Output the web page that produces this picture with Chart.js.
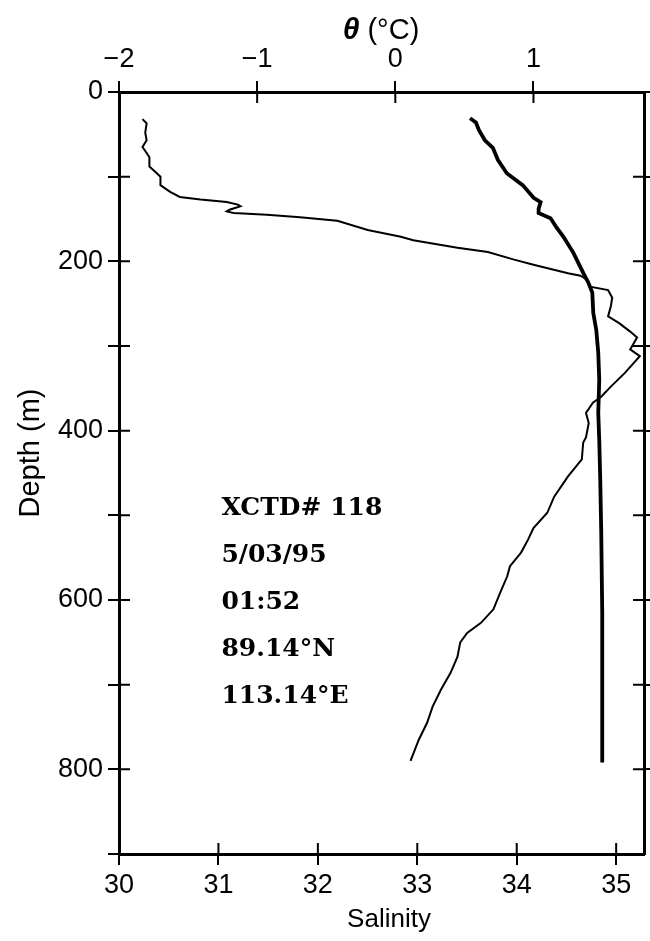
<!DOCTYPE html>
<html>
<head>
<meta charset="utf-8">
<script src="https://cdn.jsdelivr.net/npm/chart.js@4.4.1/dist/chart.umd.min.js"></script>
<style>
html,body{margin:0;padding:0;background:#fff;}
#wrap{width:650px;height:941px;position:relative;}
</style>
</head>
<body>
<div id="wrap"><canvas id="c" width="650" height="941"></canvas></div>
<script>
// ---- data ----
const salDepth = [31, 36, 45, 57, 66, 80, 96, 110, 125, 130, 138, 143, 149, 160, 171, 190, 214, 225, 237, 261, 281, 308, 340, 379, 411, 458, 520, 615, 700, 792];
const salinity = [33.53, 33.59, 33.62, 33.68, 33.76, 33.81, 33.90, 34.06, 34.17, 34.24, 34.22, 34.22, 34.34, 34.40, 34.47, 34.57, 34.67, 34.72, 34.76, 34.77, 34.80, 34.82, 34.83, 34.82, 34.83, 34.84, 34.85, 34.86, 34.86, 34.86];

const tempDepth = [32, 37, 48, 57, 65, 72, 77, 88, 94, 100, 110, 118, 124, 127, 130, 133, 135, 139, 141, 143, 145, 148, 152, 163, 171, 175, 184, 189, 198, 204, 214, 217, 222, 230, 234, 243, 253, 265, 273, 283, 290, 304, 312, 332, 348, 360, 367, 379, 391, 408, 414, 434, 454, 478, 497, 515, 529, 544, 560, 572, 591, 611, 627, 639, 650, 667, 686, 706, 726, 745, 765, 790];
const theta = [-1.83, -1.80, -1.81, -1.80, -1.83, -1.80, -1.78, -1.78, -1.74, -1.70, -1.70, -1.63, -1.56, -1.41, -1.22, -1.14, -1.12, -1.20, -1.22, -1.17, -0.93, -0.69, -0.42, -0.20, 0.04, 0.13, 0.45, 0.67, 0.86, 1.00, 1.25, 1.34, 1.39, 1.41, 1.54, 1.57, 1.56, 1.54, 1.62, 1.70, 1.75, 1.70, 1.77, 1.66, 1.56, 1.49, 1.43, 1.38, 1.40, 1.38, 1.36, 1.35, 1.25, 1.15, 1.10, 1.00, 0.96, 0.91, 0.83, 0.81, 0.76, 0.71, 0.62, 0.52, 0.47, 0.45, 0.40, 0.33, 0.27, 0.23, 0.17, 0.11];

const salTicks = [30, 31, 32, 33, 34, 35];
const salTickLabels = ['30', '31', '32', '33', '34', '35'];
const thetaTicks = [-2, -1, 0, 1];
const thetaTickLabels = ['\u22122', '\u22121', '0', '1'];
const depthTicks = [0, 100, 200, 300, 400, 500, 600, 700, 800, 900];
const depthTickLabels = ['0', '', '200', '', '400', '', '600', '', '800', ''];
const stationInfo = ['XCTD# 118', '5/03/95', '01:52', '89.14\u00B0N', '113.14\u00B0E'];

const salTitle = 'Salinity';
const thetaSymbol = '\u03B8';
const thetaUnit = ' (\u00B0C)';
const depthTitle = 'Depth (m)';

// ---- styling ----
const FAM = "'Liberation Sans', Arial, sans-serif";
const TICK_FONT = {family: FAM, size: 27};
const BLACK = '#000';
const TL = 11;

const labelFrom = (ticks, labels) => (v) => {
  const i = ticks.indexOf(v);
  return i >= 0 ? labels[i] : '';
};

const innerTicks = {
  id: 'innerTicks',
  afterDraw(chart) {
    const {ctx, chartArea: a, scales} = chart;
    ctx.save();
    ctx.strokeStyle = BLACK;
    ctx.lineWidth = 2;
    ctx.beginPath();
    scales.xS.ticks.forEach(t => { const x = scales.xS.getPixelForValue(t.value); ctx.moveTo(x, a.bottom); ctx.lineTo(x, a.bottom - TL); });
    scales.xT.ticks.forEach(t => { const x = scales.xT.getPixelForValue(t.value); ctx.moveTo(x, a.top); ctx.lineTo(x, a.top + TL); });
    scales.y.ticks.forEach(t => { const y = scales.y.getPixelForValue(t.value); ctx.moveTo(a.left, y); ctx.lineTo(a.left + TL, y); });
    scales.y2.ticks.forEach(t => { const y = scales.y2.getPixelForValue(t.value); ctx.moveTo(a.right, y); ctx.lineTo(a.right - TL, y); });
    ctx.stroke();

    // axis titles
    ctx.fillStyle = BLACK;
    ctx.textBaseline = 'middle';
    const fNorm = "26px " + FAM;
    const fBig = "29px " + FAM;
    const fItal = "italic bold 30px " + FAM;
    ctx.font = fNorm;
    ctx.textAlign = 'center';
    ctx.fillText(salTitle, 389, 920);

    // theta title (italic symbol + upright unit)
    ctx.font = fItal; const w1 = ctx.measureText(thetaSymbol).width;
    ctx.font = fBig; const w2 = ctx.measureText(thetaUnit).width;
    const x0 = 381 - (w1 + w2) / 2;
    ctx.textAlign = 'left';
    ctx.font = fItal; ctx.fillText(thetaSymbol, x0, 31);
    ctx.font = fBig; ctx.fillText(thetaUnit, x0 + w1, 31);

    // depth title
    ctx.save();
    ctx.translate(31, 453);
    ctx.rotate(-Math.PI / 2);
    ctx.textAlign = 'center';
    ctx.font = fBig;
    ctx.fillText(depthTitle, 0, 0);
    ctx.restore();

    // station annotation
    ctx.font = "bold 25px 'DejaVu Serif', 'Liberation Serif', serif";
    ctx.textAlign = 'left';
    const ax = scales.xS.getPixelForValue(31.03);
    stationInfo.forEach((s, i) => {
      const y = scales.y.getPixelForValue(492 + i * 55.5);
      ctx.fillText(s, ax, y);
    });
    ctx.restore();
  }
};

new Chart(document.getElementById('c'), {
  type: 'scatter',
  data: {
    datasets: [
      {
        label: 'Salinity',
        data: salDepth.map((d, i) => ({x: salinity[i], y: d})),
        xAxisID: 'xS', yAxisID: 'y',
        showLine: true, borderColor: BLACK, borderWidth: 3.8,
        pointRadius: 0, tension: 0, fill: false
      },
      {
        label: 'Theta',
        data: tempDepth.map((d, i) => ({x: theta[i], y: d})),
        xAxisID: 'xT', yAxisID: 'y',
        showLine: true, borderColor: BLACK, borderWidth: 2,
        pointRadius: 0, tension: 0, fill: false
      }
    ]
  },
  options: {
    responsive: false,
    animation: false,
    devicePixelRatio: 1,
    layout: {padding: 0},
    plugins: {legend: {display: false}, tooltip: {enabled: false}},
    scales: {
      xS: {
        type: 'linear', position: 'bottom', min: 30, max: 35.28,
        afterBuildTicks: s => { s.ticks = salTicks.map(v => ({value: v})); },
        afterFit: s => { s.height = 87; },
        ticks: {font: TICK_FONT, color: BLACK, padding: 4, maxRotation: 0, callback: labelFrom(salTicks, salTickLabels)},
        grid: {drawOnChartArea: false, drawTicks: true, tickLength: TL, color: BLACK, lineWidth: 2},
        border: {display: true, color: BLACK, width: 3}
      },
      xT: {
        type: 'linear', position: 'top', min: -2, max: 1.8,
        afterBuildTicks: s => { s.ticks = thetaTicks.map(v => ({value: v})); },
        afterFit: s => { s.height = 92; },
        ticks: {font: TICK_FONT, color: BLACK, padding: 5, maxRotation: 0, callback: labelFrom(thetaTicks, thetaTickLabels)},
        grid: {drawOnChartArea: false, drawTicks: true, tickLength: TL, color: BLACK, lineWidth: 2},
        border: {display: true, color: BLACK, width: 3}
      },
      y: {
        type: 'linear', position: 'left', min: 0, max: 900, reverse: true,
        afterBuildTicks: s => { s.ticks = depthTicks.map(v => ({value: v})); },
        afterFit: s => { s.width = 119; },
        ticks: {font: TICK_FONT, color: BLACK, padding: 5, autoSkip: false, callback: labelFrom(depthTicks, depthTickLabels)},
        grid: {drawOnChartArea: false, drawTicks: true, tickLength: TL, color: BLACK, lineWidth: 2},
        border: {display: true, color: BLACK, width: 3}
      },
      y2: {
        type: 'linear', position: 'right', min: 0, max: 900, reverse: true,
        afterBuildTicks: s => { s.ticks = depthTicks.slice(0, -1).map(v => ({value: v})); },
        afterFit: s => { s.width = 6; },
        ticks: {display: true, autoSkip: false, callback: () => ''},
        grid: {drawOnChartArea: false, drawTicks: true, tickLength: 6, color: BLACK, lineWidth: 2},
        border: {display: true, color: BLACK, width: 3}
      }
    }
  },
  plugins: [innerTicks]
});
</script>
</body>
</html>
